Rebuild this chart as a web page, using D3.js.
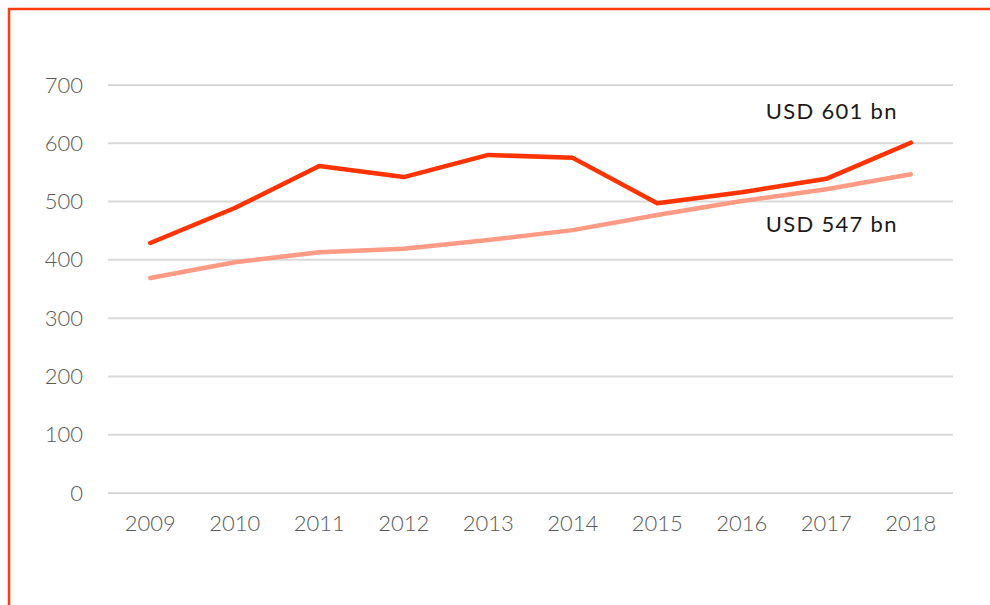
<!DOCTYPE html>
<html>
<head>
<meta charset="utf-8">
<script src="https://cdn.jsdelivr.net/npm/d3@7"></script>
<style>
  body { margin: 0; background: #fff; }
  svg text { font-family: Lato, "DejaVu Sans", sans-serif; }
</style>
</head>
<body>
<div id="chart"></div>
<script>
// data
var years = ["2009", "2010", "2011", "2012", "2013", "2014", "2015", "2016", "2017", "2018"];
var seriesA = [429, 489, 561, 542, 580, 575, 497, 516, 539, 601];
var seriesB = [369, 396, 413, 419, 434, 451, 477, 501, 521, 547];
var yTicks = [0, 100, 200, 300, 400, 500, 600, 700];
var labels = ["USD 601 bn", "USD 547 bn"];

var W = 990, H = 605;
var margin = { top: 85, right: 37, bottom: 112, left: 108 },
  width = W - margin.left - margin.right,
  height = H - margin.top - margin.bottom;

var root = d3.select("#chart")
  .append("svg")
  .attr("width", W)
  .attr("height", H);

// orange frame (only top and left visible)
root.append("path")
  .attr("d", "M9,605 V9 H990")
  .attr("fill", "none")
  .attr("stroke", "#ff3c0f")
  .attr("stroke-width", 2.5);

var svg = root.append("g")
  .attr("transform", "translate(" + margin.left + "," + margin.top + ")");

var x = d3.scaleBand()
  .domain(years)
  .range([0, width]);

var y = d3.scaleLinear()
  .domain([0, 700])
  .range([height, 0]);

// gridlines
svg.selectAll(".grid")
  .data(yTicks)
  .enter()
  .append("line")
  .attr("x1", 0)
  .attr("x2", width)
  .attr("y1", function (d) { return y(d); })
  .attr("y2", function (d) { return y(d); })
  .attr("stroke", "#d9d9d9")
  .attr("stroke-width", 2);

// y axis labels
var yAxis = svg.append("g")
  .call(d3.axisLeft(y).tickValues(yTicks).tickSize(0).tickPadding(25));
yAxis.select(".domain").remove();
yAxis.selectAll("text")
  .attr("fill", "#595959")
  .style("font-size", "22px")
  .style("font-weight", 300);

// x axis labels
var xAxis = svg.append("g")
  .attr("transform", "translate(0," + height + ")")
  .call(d3.axisBottom(x).tickSize(0).tickPadding(22));
xAxis.select(".domain").remove();
xAxis.selectAll("text")
  .attr("fill", "#595959")
  .style("font-size", "22px")
  .style("font-weight", 300);

var line = d3.line()
  .x(function (d, i) { return x(years[i]) + x.bandwidth() / 2; })
  .y(function (d) { return y(d); });

svg.append("path")
  .datum(seriesB)
  .attr("d", line)
  .attr("fill", "none")
  .attr("stroke", "#ff9a84")
  .attr("stroke-width", 4.5)
  .attr("stroke-linecap", "round")
  .attr("stroke-linejoin", "round");

svg.append("path")
  .datum(seriesA)
  .attr("d", line)
  .attr("fill", "none")
  .attr("stroke", "#ff3300")
  .attr("stroke-width", 4.5)
  .attr("stroke-linecap", "round")
  .attr("stroke-linejoin", "round");

// end labels
var lastX = x(years[years.length - 1]) + x.bandwidth() / 2;
svg.append("text")
  .attr("x", lastX - 13)
  .attr("y", y(seriesA[seriesA.length - 1]) - 24)
  .attr("text-anchor", "end")
  .attr("fill", "#1a1a1a")
  .style("font-size", "22px")
  .style("letter-spacing", "1.3px")
  .text(labels[0]);

svg.append("text")
  .attr("x", lastX - 13)
  .attr("y", y(seriesB[seriesB.length - 1]) + 58)
  .attr("text-anchor", "end")
  .attr("fill", "#1a1a1a")
  .style("font-size", "22px")
  .style("letter-spacing", "1.3px")
  .text(labels[1]);
</script>
</body>
</html>
